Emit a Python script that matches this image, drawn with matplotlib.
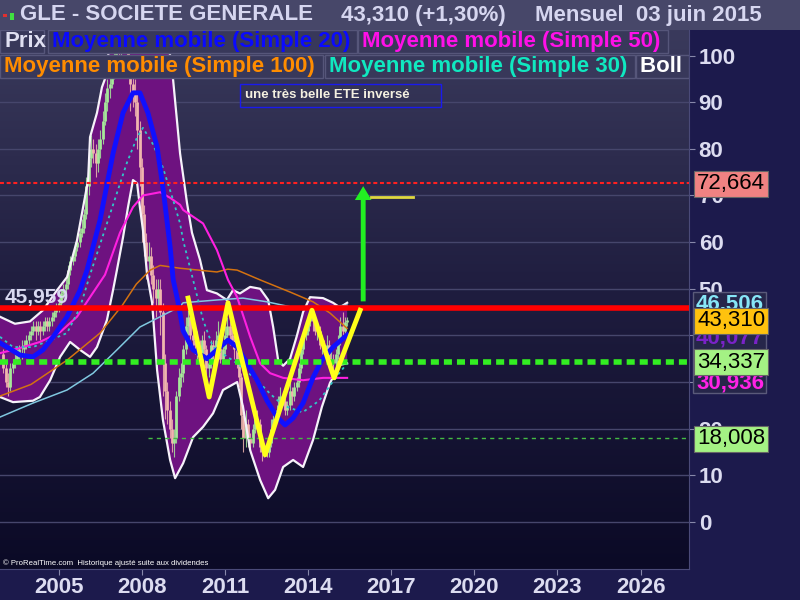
import numpy as np
import pandas as pd
import matplotlib
matplotlib.use('Agg')
import matplotlib.pyplot as plt
import matplotlib.transforms as mtransforms
from matplotlib.colors import LinearSegmentedColormap
from matplotlib.patches import Rectangle

plt.rcParams['font.family'] = ['Liberation Sans', 'DejaVu Sans']

# ---- monthly candles, Jan 2003 -> Jun 2015 ----
months = pd.date_range('2003-01-01', '2015-06-01', freq='MS')
opens = [36, 33, 30, 29, 33, 34, 35, 36, 37, 37, 38, 39,
         40, 41, 42, 41, 42, 41, 42, 43, 42, 43, 44, 45,
         46, 47, 49, 50, 51, 54, 56, 57, 59, 60, 62, 63,
         66, 72, 78, 80, 79, 77, 80, 82, 86, 90, 93, 94,
         96, 99, 102, 101, 105, 107, 103, 98, 94, 92, 90, 84,
         76, 66, 60, 56, 57, 53, 50, 48, 50, 45, 34, 28,
         24, 20, 17, 18, 27, 31, 32, 37, 42, 44, 40, 39,
         38, 38, 36, 39, 37, 33, 34, 38, 37, 39, 40, 35,
         37, 40, 42, 40, 39, 37, 35, 31, 23, 18, 21, 18,
         17, 20, 22, 21, 16, 15, 16, 15, 17, 20, 22, 23,
         25, 27, 26, 24, 25, 28, 27, 29, 30, 33, 37, 40,
         41, 43, 44, 43, 41, 41, 38, 38, 37, 38, 35, 35,
         34, 36, 39, 42, 41, 42.8]
close = [33, 30, 29, 33, 34, 35, 36, 37, 37, 38, 39, 40,
         41, 42, 41, 42, 41, 42, 43, 42, 43, 44, 45, 46,
         47, 49, 50, 51, 54, 56, 57, 59, 60, 62, 63, 66,
         72, 78, 80, 79, 77, 80, 82, 86, 90, 93, 94, 96,
         99, 102, 101, 105, 107, 103, 98, 94, 92, 90, 84, 76,
         66, 60, 56, 57, 53, 50, 48, 50, 45, 34, 28, 24,
         20, 17, 18, 27, 31, 32, 37, 42, 44, 40, 39, 38,
         38, 36, 39, 37, 33, 34, 38, 37, 39, 40, 35, 37,
         40, 42, 40, 39, 37, 35, 31, 23, 18, 21, 18, 17,
         20, 22, 21, 16, 15, 16, 15, 17, 20, 22, 23, 25,
         27, 26, 24, 25, 28, 27, 29, 30, 33, 37, 40, 41,
         43, 44, 43, 41, 41, 38, 38, 37, 38, 35, 35, 34,
         36, 39, 42, 41, 42.8, 43.31]
high = [37, 34, 32, 34, 35, 36, 37, 38, 39, 39, 40, 41,
        42, 43, 43, 43, 43, 43, 44, 44, 44, 45, 46, 47,
        48, 50, 51, 52, 55, 57, 58, 60, 62, 63, 65, 67,
        74, 80, 83, 82, 81, 82, 84, 88, 92, 95, 96, 99,
        101, 105, 104, 107, 110, 108, 106, 100, 96, 95, 92, 86,
        78, 68, 62, 60, 59, 55, 52, 52, 52, 47, 36, 30,
        26, 22, 20, 28, 33, 34, 38, 44, 47, 45, 42, 41,
        41, 39, 40, 41, 38, 36, 39, 39, 41, 43, 41, 38,
        42, 44, 43, 42, 40, 38, 36, 32, 25, 24, 22, 19,
        21, 23, 24, 22, 17, 17, 17, 18, 22, 23, 24, 27,
        29, 28, 27, 26, 30, 29, 30, 31, 34, 38, 41, 43,
        44, 46, 45, 44, 43, 42, 40, 39, 40, 39, 37, 36,
        37, 40, 44, 45, 44, 44]
low = [32, 29, 27, 28, 32, 33, 34, 35, 35, 36, 37, 38,
       39, 40, 39, 40, 39, 40, 41, 41, 41, 42, 43, 44,
       45, 46, 48, 48, 50, 53, 55, 56, 58, 59, 61, 62,
       65, 70, 76, 77, 74, 75, 78, 81, 85, 88, 91, 93,
       95, 97, 97, 100, 103, 101, 96, 88, 89, 87, 80, 72,
       60, 57, 52, 54, 51, 47, 44, 46, 40, 27, 22, 21,
       18, 15, 14, 17, 26, 29, 30, 36, 40, 38, 37, 36,
       35, 34, 35, 36, 31, 31, 33, 35, 36, 38, 34, 34,
       36, 39, 38, 38, 35, 33, 29, 20, 15, 16, 16, 15,
       16, 19, 20, 15, 13, 14, 14, 14, 16, 19, 21, 22,
       24, 25, 23, 23, 24, 25, 26, 28, 29, 32, 36, 39,
       40, 42, 41, 40, 39, 37, 36, 35, 36, 33, 33, 32,
       33, 35, 38, 40, 40, 42]

# ---- indicator lines (decimal year, value) ----
sma20_x = [2002.88, 2003.60, 2004.07, 2004.43, 2004.80, 2005.30, 2005.77, 2006.02, 2006.49,
           2006.96, 2007.32, 2007.68, 2007.93, 2008.22, 2008.55, 2008.76, 2009.02, 2009.13,
           2009.31, 2009.49, 2009.85, 2010.35, 2010.71, 2011.11, 2011.44, 2011.80, 2012.16,
           2012.52, 2012.88, 2013.17, 2013.46, 2013.82, 2014.18, 2014.50, 2014.90, 2015.41]
sma20_y = [38.4, 35.8, 35.4, 36.9, 39.7, 44, 49.7, 54, 64.7,
           79, 87.7, 92, 92, 87.7, 80.4, 71.8, 59, 52,
           47, 41, 36.9, 35, 36.9, 39, 37.5, 34, 30.4,
           26, 22.5, 20.8, 22.3, 25.5, 31, 34.7, 37.5, 40.1]

sma30_x = [2002.88, 2003.35, 2004.07, 2004.69, 2005.30, 2005.77, 2006.13, 2006.85, 2007.46,
           2007.83, 2008.04, 2008.40, 2008.76, 2009.13, 2009.38, 2009.49, 2009.85, 2010.21,
           2010.57, 2011.44, 2012.16, 2012.63, 2013.10, 2013.80, 2014.40, 2015.00, 2015.41]
sma30_y = [39.7, 37.5, 37.5, 39, 40.5, 46, 53, 66, 77,
           82.5, 84.5, 81, 76, 69, 64, 60.4, 51.9, 43.3,
           37.5, 34, 30.4, 27.5, 25, 23.5, 26, 31, 34]

sma50_x = [2002.88, 2003.60, 2004.32, 2005.05, 2005.66, 2006.13, 2006.67, 2007.21, 2007.68,
           2008.04, 2008.66, 2009.02, 2009.38, 2009.49, 2010.21, 2010.71, 2011.11, 2011.44,
           2011.91, 2012.27, 2012.63, 2013.10, 2013.82, 2014.54, 2015.41]
sma50_y = [36.2, 37.3, 38.6, 40.7, 44, 48.2, 53, 62, 67.5,
           70, 70.7, 69.5, 68, 66.9, 64, 58.3, 51.9, 48.2,
           39.7, 34, 31.9, 30.9, 30.4, 30.9, 30.9]

sma100_x = [2002.88, 2004.00, 2005.30, 2006.49, 2007.30, 2007.80, 2008.30, 2008.66, 2009.38,
            2010.71, 2011.10, 2011.44, 2012.27, 2013.35, 2014.18, 2014.79, 2015.41]
sma100_y = [27, 29.5, 34.7, 40.5, 46.5, 51, 54, 55, 54.4,
            53.6, 54.2, 54, 51.9, 49.3, 47.2, 44.8, 41.5]

slow_x = [2002.88, 2004.07, 2005.30, 2006.24, 2007.10, 2007.93, 2008.66, 2009.38, 2009.49,
          2010.71, 2011.65, 2012.52, 2013.46, 2014.54, 2015.41]
slow_y = [22.5, 25.5, 28.3, 31.9, 36.9, 41.8, 44, 46.2, 47,
          47.6, 48, 47.2, 46, 46, 46.5]

bb_up_x = [2002.88, 2003.42, 2003.96, 2004.43, 2004.94, 2005.30, 2005.66, 2005.88, 2006.06,
           2006.13, 2006.38, 2006.56, 2006.67, 2006.90, 2007.30, 2007.80, 2008.30, 2008.80,
           2009.02, 2009.13, 2009.38, 2009.63, 2009.81, 2010.10, 2010.35, 2010.71, 2011.07,
           2011.29, 2011.54, 2011.91, 2012.27, 2012.56, 2012.74, 2012.92, 2013.10, 2013.35,
           2013.60, 2013.82, 2014.07, 2014.54, 2014.90, 2015.15, 2015.41]
bb_up_y = [44, 42.5, 43, 45.4, 49.7, 52.5, 60.4, 67.5, 73.3,
           82.5, 87.7, 93.2, 95, 105, 115, 125, 120, 110,
           100, 94.7, 79, 68.4, 62, 56.2, 49.7, 49, 47.6,
           49.7, 49, 50.4, 50, 47.6, 41.8, 34.7, 33.5, 35,
           40, 45, 48.2, 48, 47, 46, 47]
bb_lo_x = [2002.88, 2003.35, 2004.07, 2004.32, 2004.69, 2005.05, 2005.41, 2005.77, 2006.13,
           2006.38, 2006.74, 2006.96, 2007.10, 2007.32, 2007.50, 2007.68, 2007.83, 2007.93,
           2008.04, 2008.19, 2008.37, 2008.55, 2008.76, 2009.02, 2009.20, 2009.49, 2009.85,
           2010.21, 2010.57, 2010.93, 2011.44, 2011.65, 2011.91, 2012.27, 2012.56, 2012.81,
           2013.10, 2013.46, 2013.82, 2014.18, 2014.50, 2014.79, 2015.15, 2015.41]
bb_lo_y = [26.8, 25.7, 26, 26.8, 30.4, 35.4, 38.6, 36.9, 35.4,
           37.5, 43.3, 49.7, 54, 61, 67.5, 73.3, 72.6, 67.5,
           62.6, 53, 47, 32.6, 21.9, 13.3, 9.4, 12.6, 18.2,
           20.4, 23.3, 28.3, 30, 24.7, 15.4, 9, 5.1, 6.9,
           11.8, 13.3, 11.8, 17.6, 24.7, 29.8, 33.7, 34]

# hand-drawn inverted head & shoulders
ete_x = [2009.67, 2010.43, 2011.11, 2012.45, 2014.14, 2014.94, 2015.88]
ete_y = [48, 26.8, 47, 14.4, 45.4, 30.9, 45.4]

neckline = 45.959
target = 72.664
support = 34.337
low_level = 18.008
low_level_start = 2008.22
arrow_x, arrow_base, arrow_tip = 2015.99, 47.3, 72.0
tgt_x, tgt_y = [2016.27, 2017.79], [69.7, 69.7]

last_labels = [(46.7, '46,506', '#86e6f6'), (39.4, '40,077', '#7a22c8'), (29.8, '30,936', '#ff22e6')]
boxes = [(72.5, '72,664', '#f08282'), (43.1, '43,310', '#ffc20e'),
         (34.3, '34,337', '#a4f284'), (17.8, '18,008', '#a4f284')]

years = [2005, 2008, 2011, 2014, 2017, 2020, 2023, 2026]
levels = list(range(0, 101, 10))

x0, x1 = 2002.88, 2027.75
y0, y1 = -10.07, 105.47

fig = plt.figure(figsize=(8, 6), dpi=100, facecolor='#1c1a4c')
ax = fig.add_axes([0, 31 / 600, 689 / 800, 539 / 600])
ax.set_xlim(x0, x1)
ax.set_ylim(y0, y1)

bg = LinearSegmentedColormap.from_list('bg', ['#0b0a26', '#1e1c3e', '#3a3a5c'])
ax.imshow(np.linspace(0, 1, 256).reshape(-1, 1), cmap=bg, origin='lower',
          extent=[x0, x1, y0, y1], aspect='auto', zorder=0)
for v in levels:
    ax.axhline(v, color='#46466c', lw=1, zorder=0.5)

# bollinger band
ax.fill(np.r_[bb_up_x, bb_lo_x[::-1]], np.r_[bb_up_y, bb_lo_y[::-1]],
        color='#6e1280', lw=0, zorder=1)

# candles
xm = months.year + (months.month - 1) / 12
o, c = np.array(opens), np.array(close)
cols = np.where(c >= o, '#a6e89a', '#f0b6ae')
ax.vlines(xm, low, high, colors=cols, lw=0.8, alpha=0.85, zorder=2)
ax.vlines(xm, np.minimum(o, c), np.maximum(o, c), colors=cols, lw=2.0, zorder=2)

ax.plot(bb_up_x, bb_up_y, color='#f6f2fa', lw=1.6, zorder=3)
ax.plot(bb_lo_x, bb_lo_y, color='#f6f2fa', lw=1.6, zorder=3)

ax.plot(slow_x, slow_y, color='#80c8e0', lw=1.1, zorder=4)
ax.plot(sma100_x, sma100_y, color='#d47210', lw=1.1, zorder=4)
ax.plot(sma50_x, sma50_y, color='#ff20e0', lw=1.5, zorder=4)
ax.plot(sma30_x, sma30_y, color='#30c8c8', lw=1.3, ls=(0, (1.5, 2)), zorder=4)
ax.plot(sma20_x, sma20_y, color='#1010ff', lw=3.5, zorder=4)

# levels
ax.axhline(target, color='#ff2020', lw=1.5, ls=(0, (1.9, 1.3)), zorder=5)
ax.axhline(support, color='#33ee22', lw=4, ls=(0, (1.45, 0.9)), zorder=5)
ax.plot([low_level_start, x1], [low_level, low_level], color='#44bb44', lw=1,
        ls=(0, (3, 3)), zorder=5)
ax.axhline(neckline, color='#ff0000', lw=4, zorder=6)
ax.text(2003.06, 46.9, '45,959', color='#d8d8f0', fontsize=15, fontweight='bold',
        va='baseline', zorder=8)

ax.plot(ete_x, ete_y, color='#ffff1a', lw=3.5, zorder=7)
ax.annotate('', xy=(arrow_x, arrow_tip), xytext=(arrow_x, arrow_base),
            arrowprops=dict(facecolor='#22ee22', edgecolor='none', width=3.5,
                            headwidth=12, headlength=10, shrink=0), zorder=7)
ax.plot(tgt_x, tgt_y, color='#e0d840', lw=2, zorder=7)

# axes styling
for s in ['top', 'left']:
    ax.spines[s].set_visible(False)
for s in ['right', 'bottom']:
    ax.spines[s].set_color('#4a4a78')
ax.yaxis.tick_right()
ax.set_yticks(levels)
ax.set_xticks(years)
ax.tick_params(axis='y', colors='#8888aa', labelcolor='#dcdcf0', labelsize=16,
               length=4, pad=3)
ax.tick_params(axis='x', colors='#8888aa', labelcolor='#dcdcf0', labelsize=16,
               length=4, pad=2)
for lab in ax.get_xticklabels() + ax.get_yticklabels():
    lab.set_fontweight('bold')

ax.text(0.004, 0.008, '\u00a9 ProRealTime.com  Historique ajust\u00e9 suite aux dividendes',
        transform=ax.transAxes, color='white', fontsize=5.6, zorder=8)

# right-hand value panel
ax.add_patch(Rectangle((693 / 800, 207 / 600), 73 / 800, 101 / 600, transform=fig.transFigure,
                       facecolor='#26264a', edgecolor='#5a5a7a', lw=1, clip_on=False, zorder=6))
blend = mtransforms.blended_transform_factory(fig.transFigure, ax.transData)
for v, s, col in last_labels:
    ax.text(696 / 800, v, s, transform=blend, color=col, fontsize=16, fontweight='bold',
            va='center', ha='left', clip_on=False, zorder=7)
for v, s, col in boxes:
    ax.text(697 / 800, v, s, transform=blend, color='black', fontsize=16, va='center',
            ha='left', clip_on=False, zorder=8,
            bbox=dict(boxstyle='square,pad=0.12', facecolor=col, edgecolor='#666666', lw=0.8))

# title bar
fig.patches.append(Rectangle((0, 570 / 600), 1, 30 / 600, transform=fig.transFigure,
                             facecolor='#474769', edgecolor='none', zorder=1))
fig.patches.append(Rectangle((3 / 800, (600 - 17) / 600), 4 / 800, 3 / 600,
                             transform=fig.transFigure, facecolor='#e03030', zorder=2))
fig.patches.append(Rectangle((10 / 800, (600 - 20) / 600), 4 / 800, 7 / 600,
                             transform=fig.transFigure, facecolor='#40e040', zorder=2))
fig.text(20 / 800, 585 / 600, 'GLE - SOCIETE GENERALE', color='#d6d6f0', fontsize=16,
         fontweight='bold', va='center', zorder=3)
fig.text(341 / 800, 585 / 600, '43,310 (+1,30%)', color='#d6d6f0', fontsize=16,
         fontweight='bold', va='center', zorder=3)
fig.text(535 / 800, 585 / 600, 'Mensuel  03 juin 2015', color='#d6d6f0', fontsize=16,
         fontweight='bold', va='center', zorder=3)

# legend rows
legend_rows = [
    (30, [(0, 44, 'Prix', '#e0e0f2'), (48, 357, 'Moyenne mobile (Simple 20)', '#0a0aff'),
          (358, 668, 'Moyenne mobile (Simple 50)', '#ff10e8')]),
    (55, [(0, 323, 'Moyenne mobile (Simple 100)', '#ff8c00'),
          (325, 635, 'Moyenne mobile (Simple 30)', '#10e8c0'),
          (636, 689, 'Boll sup', '#ffffff')]),
]
for top, items in legend_rows:
    for left, right, s, col in items:
        ax.add_patch(Rectangle((left / 800, (600 - top - 23) / 600), (right - left) / 800, 23 / 600,
                               transform=fig.transFigure, facecolor='#38385a',
                               edgecolor='#56567a', lw=1, clip_on=True, zorder=10))
        ax.text((left + 4) / 800, (600 - top - 11.5) / 600, s, transform=fig.transFigure,
                color=col, fontsize=16, fontweight='bold', va='center', ha='left',
                clip_on=True, zorder=11)

# comment box
ax.add_patch(Rectangle((240 / 800, 493 / 600), 201 / 800, 23 / 600, transform=fig.transFigure,
                       facecolor='none', edgecolor='#1a1aee', lw=1, zorder=10))
ax.text(245 / 800, 504.5 / 600, 'une tr\u00e8s belle ETE invers\u00e9', transform=fig.transFigure,
        color='#f4f0e0', fontsize=9.5, fontweight='bold', va='center', zorder=11)

fig.savefig('out.png', dpi=100, facecolor=fig.get_facecolor())
